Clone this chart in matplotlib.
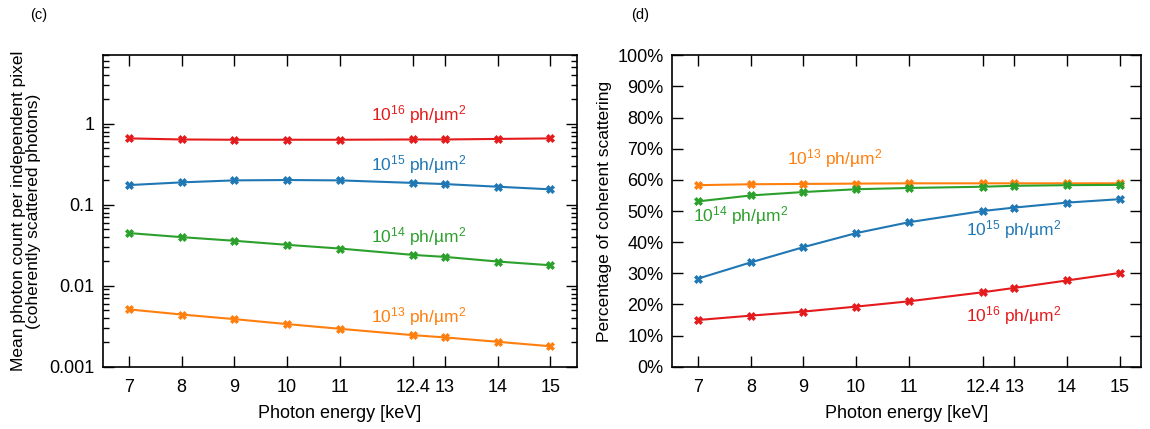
import numpy as np
import matplotlib
matplotlib.use('Agg')
import matplotlib.pyplot as plt
from matplotlib.ticker import FixedLocator, FuncFormatter, NullFormatter, LogLocator

plt.rcParams['font.family'] = ['Liberation Sans', 'DejaVu Sans']
plt.rcParams['mathtext.fontset'] = 'custom'
plt.rcParams['mathtext.rm'] = 'Liberation Sans'
plt.rcParams['mathtext.it'] = 'Liberation Sans'
plt.rcParams['mathtext.bf'] = 'Liberation Sans'
plt.rcParams['font.size'] = 12

# photon energies (keV)
energy = [7, 8, 9, 10, 11, 12.4, 13, 14, 15]
xtick_labels = ['7', '8', '9', '10', '11', '12.4', '13', '14', '15']

# (c) mean photon count per independent pixel
count_1e16 = [0.66, 0.64, 0.635, 0.635, 0.635, 0.64, 0.64, 0.65, 0.66]
count_1e15 = [0.175, 0.189, 0.200, 0.202, 0.200, 0.186, 0.180, 0.167, 0.155]
count_1e14 = [0.0447, 0.0398, 0.0359, 0.0320, 0.0288, 0.0240, 0.0227, 0.0199, 0.0179]
count_1e13 = [0.0051, 0.00441, 0.00387, 0.00336, 0.00294, 0.00245, 0.00230, 0.00203, 0.00179]

# (d) percentage of coherent scattering
pct_1e13 = [58.3, 58.6, 58.7, 58.8, 58.9, 58.9, 58.9, 58.9, 58.9]
pct_1e14 = [53.1, 55.0, 56.1, 57.0, 57.4, 57.8, 58.1, 58.3, 58.4]
pct_1e15 = [28.3, 33.5, 38.4, 42.9, 46.4, 50.0, 51.1, 52.7, 53.8]
pct_1e16 = [15.0, 16.4, 17.7, 19.3, 21.0, 23.9, 25.3, 27.7, 30.1]

red = '#e41a1c'
blue = '#1f77b4'
green = '#2ca02c'
orange = '#ff7f0e'

fig = plt.figure(figsize=(11.5, 4.29), dpi=100)
ax1 = fig.add_axes([0.0893, 0.1452, 0.4122, 0.7258])
ax2 = fig.add_axes([0.5841, 0.1452, 0.4078, 0.7258])

style = dict(lw=1.5, marker='X', ms=5.5, mew=0.5)
lsize = 12.5

def lab(n):
    return r'$\mathregular{10^{%d}}$' % n + ' ph/µm' + r'$\mathregular{^2}$'

# panel (c)
for y, c in [(count_1e16, red), (count_1e15, blue), (count_1e14, green), (count_1e13, orange)]:
    ax1.plot(energy, y, color=c, **style)
ax1.set_yscale('log')
ax1.set_ylim(0.001, 7)
ax1.set_xlim(6.5, 15.5)
ax1.yaxis.set_major_locator(FixedLocator([0.001, 0.01, 0.1, 1]))
ax1.yaxis.set_major_formatter(FuncFormatter(lambda v, p: '%g' % v))
ax1.yaxis.set_minor_locator(LogLocator(base=10, subs=np.arange(2, 10)))
ax1.yaxis.set_minor_formatter(NullFormatter())
ax1.set_ylabel('Mean photon count per independent pixel\n(coherently scattered photons)',
               fontsize=12.5, linespacing=1.0, labelpad=6)
ax1.text(12.5, 1.3, lab(16), color=red, ha='center', va='center', fontsize=lsize)
ax1.text(12.5, 0.31, lab(15), color=blue, ha='center', va='center', fontsize=lsize)
ax1.text(12.5, 0.041, lab(14), color=green, ha='center', va='center', fontsize=lsize)
ax1.text(12.5, 0.0042, lab(13), color=orange, ha='center', va='center', fontsize=lsize)
fig.text(0.026, 0.965, '(c)', fontsize=10.5, ha='left', va='center')

# panel (d)
for y, c in [(pct_1e13, orange), (pct_1e14, green), (pct_1e15, blue), (pct_1e16, red)]:
    ax2.plot(energy, y, color=c, **style)
ax2.set_ylim(0, 100)
ax2.set_xlim(6.5, 15.4)
ax2.set_yticks(np.arange(0, 101, 10))
ax2.yaxis.set_major_formatter(FuncFormatter(lambda v, p: '%d%%' % v))
ax2.set_ylabel('Percentage of coherent scattering', fontsize=12.5)
ax2.text(9.6, 67.0, lab(13), color=orange, ha='center', va='center', fontsize=lsize)
ax2.text(7.8, 48.5, lab(14), color=green, ha='center', va='center', fontsize=lsize)
ax2.text(12.98, 44.0, lab(15), color=blue, ha='center', va='center', fontsize=lsize)
ax2.text(12.98, 16.4, lab(16), color=red, ha='center', va='center', fontsize=lsize)
fig.text(0.549, 0.965, '(d)', fontsize=10.5, ha='left', va='center')

for ax in (ax1, ax2):
    ax.set_xticks(energy)
    ax.set_xticklabels(xtick_labels)
    ax.set_xlabel('Photon energy [keV]', fontsize=13, labelpad=6)
    ax.tick_params(which='both', direction='in', top=True, right=True, labelsize=13,
                   width=1)
    ax.tick_params(axis='x', pad=9)
    ax.tick_params(axis='y', pad=6)
    ax.tick_params(which='major', length=8)
    ax.tick_params(which='minor', length=4)
    for s in ax.spines.values():
        s.set_linewidth(1.2)

fig.savefig('out.png', dpi=100)
